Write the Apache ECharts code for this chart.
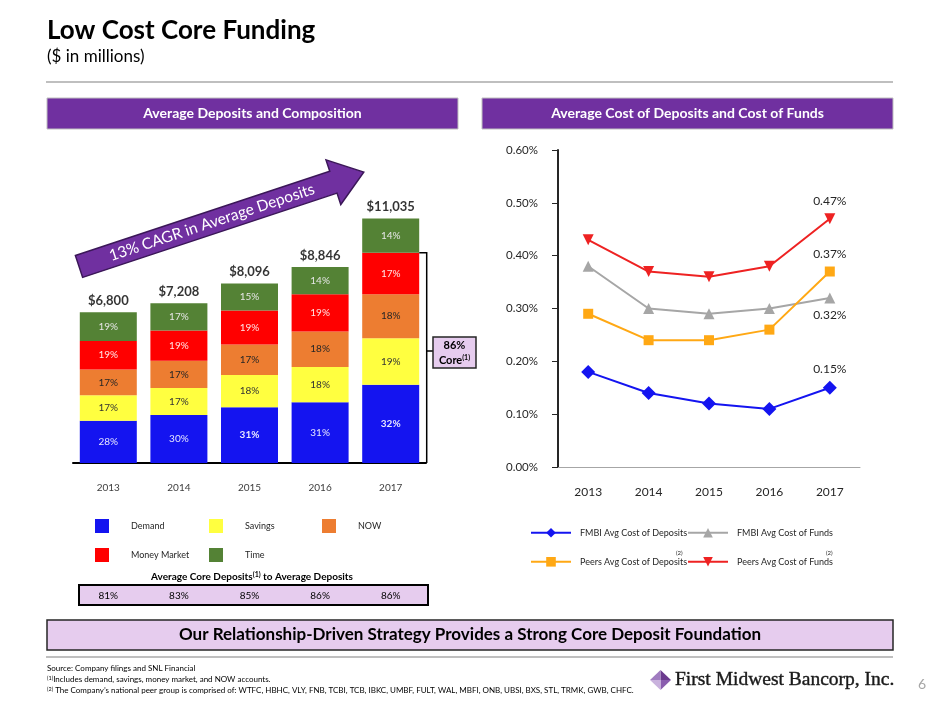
<!DOCTYPE html>
<html><head><meta charset="utf-8">
<script src="https://cdn.jsdelivr.net/npm/echarts@6/dist/echarts.min.js"></script>
<style>html,body{margin:0;padding:0;background:#fff}#c{width:940px;height:705px}</style>
</head><body><div id="c"></div>
<script>
// ---- data ----
const years = ['2013', '2014', '2015', '2016', '2017'];
const totals = [6800, 7208, 8096, 8846, 11035];
const demandPct = [28, 30, 31, 31, 32];
const savingsPct = [17, 17, 18, 18, 19];
const nowPct = [17, 17, 17, 18, 18];
const moneyMarketPct = [19, 19, 19, 19, 17];
const timePct = [19, 17, 15, 14, 14];
const coreRatio = ['81%', '83%', '85%', '86%', '86%'];
const fmbiDeposits = [0.18, 0.14, 0.12, 0.11, 0.15];
const fmbiFunds = [0.38, 0.30, 0.29, 0.30, 0.32];
const peersDeposits = [0.29, 0.24, 0.24, 0.26, 0.37];
const peersFunds = [0.43, 0.37, 0.36, 0.38, 0.47];
const costTicks = [0, 0.1, 0.2, 0.3, 0.4, 0.5, 0.6];

const FONT = 'Lato';
const PURPLE = '#7030A0';
const chart = echarts.init(document.getElementById('c'), null, {renderer: 'canvas'});

function seg(name, pcts, color, labelColor, boldIdx) {
  return {
    type: 'bar', name: name, stack: 'dep', xAxisIndex: 0, yAxisIndex: 0, barWidth: 57,
    itemStyle: {color: color},
    data: pcts.map((p, i) => {
      const d = {value: totals[i] * p / 100, pct: p};
      if (boldIdx.indexOf(i) >= 0) d.label = {fontWeight: 'bold'};
      return d;
    }),
    label: {show: true, position: 'inside', color: labelColor, fontSize: 10, fontFamily: FONT,
      formatter: p => p.data.pct + '%'}
  };
}
function line(name, vals, color, symbol, size, rot, labelPos) {
  return {
    type: 'line', name: name, xAxisIndex: 1, yAxisIndex: 1, data: vals,
    symbol: symbol, symbolSize: size, symbolRotate: rot,
    lineStyle: {color: color, width: 2}, itemStyle: {color: color},
    label: {show: true, position: labelPos, distance: 6, color: '#262626', fontSize: 12, fontFamily: FONT,
      formatter: p => p.dataIndex === vals.length - 1 ? p.value.toFixed(2) + '%' : ''}
  };
}
function legendAt(name, left, top, type) {
  const base = {data: [name], left: left, top: top, padding: 0,
    textStyle: {fontSize: 9, fontFamily: FONT, color: '#262626'}};
  if (type === 'bar') {
    Object.assign(base, {icon: 'rect', itemWidth: 14, itemHeight: 14});
    base.textStyle.padding = [0, 0, 0, 17];
  } else {
    Object.assign(base, {itemWidth: 40, itemHeight: 12});
    base.textStyle.padding = [0, 0, 0, 4];
  }
  return base;
}

const option = {
  animation: false,
  textStyle: {fontFamily: FONT},
  grid: [
    {left: 73, top: 197, width: 353, height: 266},
    {left: 558, top: 150, width: 302, height: 317}
  ],
  xAxis: [
    {type: 'category', gridIndex: 0, data: years,
      axisLine: {lineStyle: {color: '#000', width: 2}},
      axisTick: {alignWithLabel: true, length: 6, lineStyle: {color: '#000'}},
      axisLabel: {fontSize: 10, color: '#404040', margin: 20, fontFamily: FONT}},
    {type: 'category', gridIndex: 1, data: years,
      axisLine: {lineStyle: {color: '#A6A6A6', width: 1}},
      axisTick: {alignWithLabel: true, length: 6, lineStyle: {color: '#A6A6A6'}},
      axisLabel: {fontSize: 12, color: '#262626', margin: 19, fontFamily: FONT}}
  ],
  yAxis: [
    {type: 'value', gridIndex: 0, min: 0, max: 12000, show: false},
    {type: 'value', gridIndex: 1, min: costTicks[0], max: costTicks[costTicks.length - 1], interval: 0.1,
      axisLine: {show: true, lineStyle: {color: '#262626', width: 2}},
      axisTick: {show: true, length: 6, lineStyle: {color: '#262626'}},
      splitLine: {show: false},
      axisLabel: {fontSize: 11.5, color: '#262626', margin: 20, fontFamily: FONT,
        formatter: v => v.toFixed(2) + '%'}}
  ],
  legend: [
    legendAt('Demand', 95, 519, 'bar'),
    legendAt('Savings', 209, 519, 'bar'),
    legendAt('NOW', 322, 519, 'bar'),
    legendAt('Money Market', 95, 548, 'bar'),
    legendAt('Time', 209, 548, 'bar'),
    legendAt('FMBI Avg Cost of Deposits', 530, 528, 'line'),
    legendAt('FMBI Avg Cost of Funds', 687, 528, 'line'),
    legendAt('Peers Avg Cost of Deposits', 530, 557, 'line'),
    legendAt('Peers Avg Cost of Funds', 687, 557, 'line')
  ],
  series: [
    seg('Demand', demandPct, '#1414F0', '#E6E6FF', [2, 4]),
    seg('Savings', savingsPct, '#FFFF40', '#333333', []),
    seg('NOW', nowPct, '#ED7D31', '#262626', []),
    seg('Money Market', moneyMarketPct, '#FF0000', '#FFE6E6', []),
    seg('Time', timePct, '#548235', '#E6E6E6', []),
    {type: 'scatter', name: 'total', xAxisIndex: 0, yAxisIndex: 0, data: totals, symbolSize: 0,
      label: {show: true, position: 'top', distance: 5, fontSize: 13, fontWeight: 'bold', color: '#000',
        fontFamily: FONT, formatter: p => '$' + p.value.toLocaleString('en-US')}},
    line('FMBI Avg Cost of Deposits', fmbiDeposits, '#1414F0', 'diamond', 14, 0, 'top'),
    line('FMBI Avg Cost of Funds', fmbiFunds, '#A6A6A6', 'triangle', 11, 0, 'bottom'),
    line('Peers Avg Cost of Deposits', peersDeposits, '#FFA814', 'rect', 10, 0, 'top'),
    line('Peers Avg Cost of Funds', peersFunds, '#EE2222', 'triangle', 11, 180, 'top')
  ]
};
chart.setOption(option);

// ---- annotations ----
function txt(x, y, text, font, fill, align, valign, extra) {
  return {type: 'text', x: x, y: y, silent: true,
    style: Object.assign({text: text, font: font, fill: fill,
      textAlign: align || 'left', align: align || 'left',
      textVerticalAlign: valign || 'middle', verticalAlign: valign || 'middle'}, extra || {})};
}
const g = [];
// title
g.push(txt(47, 31, 'Low Cost Core Funding', 'bold 26px ' + FONT, '#000'));
g.push(txt(47, 57, '($ in millions)', '17px ' + FONT, '#000'));
g.push({type: 'line', shape: {x1: 46, y1: 82, x2: 893, y2: 82}, style: {stroke: '#BFBFBF', lineWidth: 2}});
// section headers
g.push({type: 'rect', shape: {x: 47, y: 98, width: 411, height: 31}, style: {fill: PURPLE, stroke: '#BFBFBF', lineWidth: 1}});
g.push(txt(252.5, 113.5, 'Average Deposits and Composition', 'bold 14px ' + FONT, '#fff', 'center'));
g.push({type: 'rect', shape: {x: 482, y: 98, width: 411, height: 31}, style: {fill: PURPLE, stroke: '#BFBFBF', lineWidth: 1}});
g.push(txt(687.5, 113.5, 'Average Cost of Deposits and Cost of Funds', 'bold 14px ' + FONT, '#fff', 'center'));
// CAGR arrow
g.push({type: 'group', x: 79, y: 266.5, rotation: 0.32, silent: true, children: [
  {type: 'polygon', shape: {points: [[0, -11.5], [268, -11.5], [268, -23.5], [300, 0], [268, 23.5], [268, 11.5], [0, 11.5]]},
    style: {fill: PURPLE, stroke: '#3B1758', lineWidth: 1.5}},
  {type: 'text', x: 140, y: 0, style: {text: '13% CAGR in Average Deposits', font: '15.5px ' + FONT, fill: '#fff',
    textAlign: 'center', align: 'center', textVerticalAlign: 'middle', verticalAlign: 'middle'}}
]});
// core ratio row
g.push(txt(252, 577, '{b|Average Core Deposits}{s|(1)}{b| to Average Deposits}', '10px ' + FONT, '#000', 'center', 'middle',
  {rich: {b: {fontWeight: 'bold', fontSize: 10, fontFamily: FONT},
          s: {fontSize: 7, fontWeight: 'bold', fontFamily: FONT, verticalAlign: 'top', padding: [0, 0, 5, 0]}}}));
g.push({type: 'rect', shape: {x: 79, y: 585, width: 349, height: 20}, style: {fill: '#E6CCEE', stroke: '#000', lineWidth: 2}});
// footer banner
g.push({type: 'rect', shape: {x: 47, y: 620, width: 846, height: 30}, style: {fill: '#E6CCEE', stroke: '#262626', lineWidth: 1.5}});
g.push(txt(470, 635, 'Our Relationship-Driven Strategy Provides a Strong Core Deposit Foundation', 'bold 17px ' + FONT, '#000', 'center'));
g.push({type: 'line', shape: {x1: 46, y1: 657, x2: 893, y2: 657}, style: {stroke: '#BFBFBF', lineWidth: 2}});
g.push(txt(47, 668, 'Source: Company filings and SNL Financial', '8px ' + FONT, '#000'));
g.push(txt(47, 679.5, '{s|(1)}Includes demand, savings, money market, and NOW accounts.', '8px ' + FONT, '#000', 'left', 'middle',
  {rich: {s: {fontSize: 5.5, fontFamily: FONT, verticalAlign: 'top'}}}));
g.push(txt(47, 690.5, '{s|(2)} The Company\u2019s national peer group is comprised of: WTFC, HBHC, VLY, FNB, TCBI, TCB, IBKC, UMBF, FULT, WAL, MBFI, ONB, UBSI, BXS, STL, TRMK, GWB, CHFC.', '8px ' + FONT, '#000', 'left', 'middle',
  {rich: {s: {fontSize: 5.5, fontFamily: FONT, verticalAlign: 'top'}}}));
// logo
const lc = [660.5, 680], lw = 10.5, lh = 10;
g.push({type: 'polygon', shape: {points: [[lc[0], lc[1] - lh], [lc[0] + lw, lc[1]], lc]}, style: {fill: '#6B3A8E'}});
g.push({type: 'polygon', shape: {points: [[lc[0], lc[1] - lh], [lc[0] - lw, lc[1]], lc]}, style: {fill: '#A07CC0'}});
g.push({type: 'polygon', shape: {points: [[lc[0], lc[1] + lh], [lc[0] + lw, lc[1]], lc]}, style: {fill: '#8A5DAE'}});
g.push({type: 'polygon', shape: {points: [[lc[0], lc[1] + lh], [lc[0] - lw, lc[1]], lc]}, style: {fill: '#C9B2DD'}});
g.push(txt(675, 680, 'First Midwest Bancorp, Inc.', '19.5px "Liberation Serif"', '#1a1a1a', 'left', 'middle',
  {stroke: '#1a1a1a', lineWidth: 0.4}));
g.push(txt(922, 684, '6', '14px ' + FONT, '#A6A6A6', 'center'));
// legend superscripts
g.push(txt(676, 553, '(2)', '6px ' + FONT, '#262626'));
g.push(txt(826, 553, '(2)', '6px ' + FONT, '#262626'));

// data-anchored annotations
years.forEach((y, i) => {
  const px = chart.convertToPixel({xAxisIndex: 0, yAxisIndex: 0}, [y, 0]);
  g.push(txt(px[0], 596, coreRatio[i], '10px ' + FONT, '#000', 'center'));
});
const li = years.length - 1;
const corePct = demandPct[li] + savingsPct[li] + nowPct[li] + moneyMarketPct[li];
const topPt = chart.convertToPixel({xAxisIndex: 0, yAxisIndex: 0}, [years[li], totals[li] * corePct / 100]);
const basePt = chart.convertToPixel({xAxisIndex: 0, yAxisIndex: 0}, [years[li], 0]);
const bx = basePt[0] + 36;
const midY = 351;
g.push({type: 'polyline', shape: {points: [[basePt[0] + 28.5, topPt[1]], [bx, topPt[1]], [bx, basePt[1]]]}, style: {stroke: '#000', lineWidth: 1.5, fill: null}});
g.push({type: 'line', shape: {x1: bx, y1: midY, x2: 433, y2: midY}, style: {stroke: '#000', lineWidth: 1.5}});
g.push({type: 'rect', shape: {x: 433, y: 337, width: 43, height: 31}, style: {fill: '#E6CCEE', stroke: '#262626', lineWidth: 1.5}});
g.push(txt(454.5, 345, corePct + '%', 'bold 11px ' + FONT, '#000', 'center'));
g.push(txt(454.5, 360, '{b|Core}{s|(1)}', 'bold 11px ' + FONT, '#000', 'center', 'middle',
  {rich: {b: {fontSize: 11, fontWeight: 'bold', fontFamily: FONT}, s: {fontSize: 7, fontWeight: 'bold', fontFamily: FONT, verticalAlign: 'top'}}}));

chart.setOption({graphic: g});
</script>
</body></html>
